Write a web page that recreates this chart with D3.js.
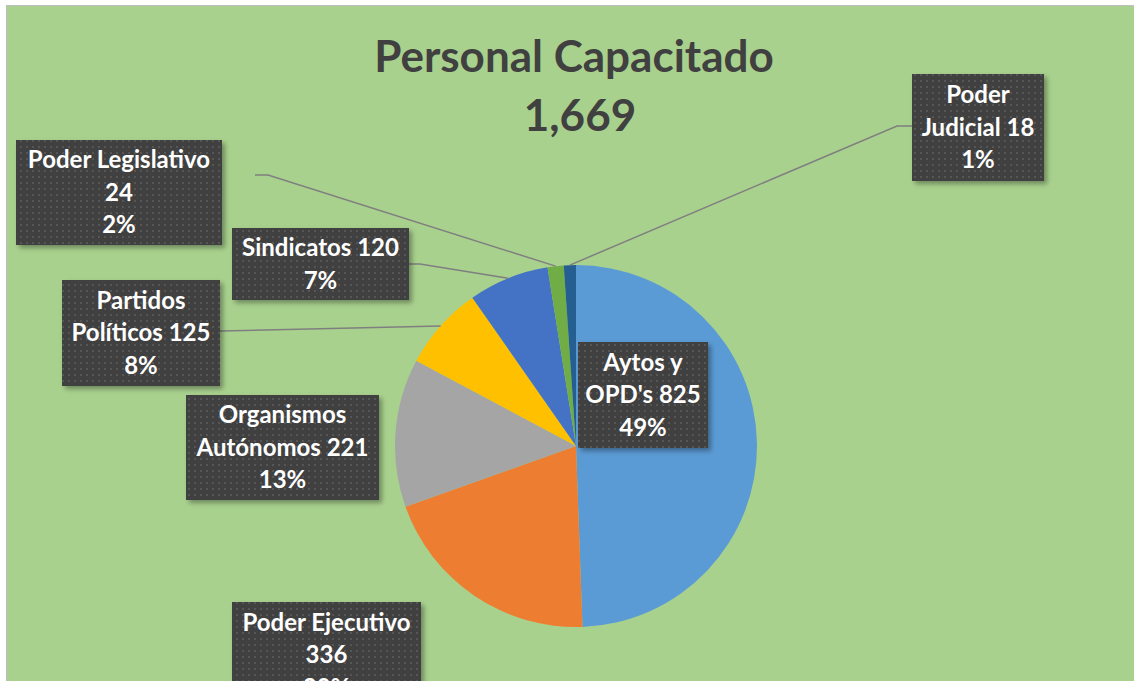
<!DOCTYPE html>
<html>
<head>
<meta charset="utf-8">
<script src="https://cdn.jsdelivr.net/npm/d3@7"></script>
<style>
  html, body { margin: 0; padding: 0; background: #fff; }
  svg { display: block; }
  text { font-family: Lato, "Open Sans", sans-serif; font-weight: bold; }
</style>
</head>
<body>
<svg width="1134" height="681"></svg>
<script>
// data
var categories = ["Aytos y OPD's", "Poder Ejecutivo", "Organismos Autónomos", "Partidos Políticos", "Sindicatos", "Poder Legislativo", "Poder Judicial"];
var values = [825, 336, 221, 125, 120, 24, 18];
var percents = [49, 20, 13, 8, 7, 2, 1];
var colors = ["#5B9BD5", "#ED7D31", "#A5A5A5", "#FFC000", "#4472C4", "#70AD47", "#255E91"];
var title = "Personal Capacitado";
var total = d3.sum(values);

// label boxes: x,y,w,h, words per line, leader elbow
var boxes = {
  "Aytos y OPD's":        { x: 578, y: 342, w: 130, h: 106, split: [2, 2] },
  "Poder Ejecutivo":      { x: 232, y: 602, w: 189, h: 106, split: [2, 1] },
  "Organismos Autónomos": { x: 186, y: 395, w: 193, h: 105, split: [1, 2] },
  "Partidos Políticos":   { x: 62,  y: 280, w: 158, h: 106, split: [1, 2], lead: [[220, 331]] },
  "Sindicatos":           { x: 232, y: 228, w: 177, h: 72,  split: [2],    lead: [[409, 264], [420, 264]] },
  "Poder Legislativo":    { x: 16,  y: 140, w: 206, h: 105, split: [2, 1], lead: [[255, 175], [268, 175]] },
  "Poder Judicial":       { x: 912, y: 74,  w: 132, h: 107, split: [1, 2], lead: [[912, 126], [897, 126]] }
};

var svg = d3.select("svg"),
    cx = 576, cy = 446, radius = 181;

var defs = svg.append("defs");

var pat = defs.append("pattern")
    .attr("id", "dots")
    .attr("width", 6).attr("height", 6)
    .attr("patternUnits", "userSpaceOnUse");
pat.append("rect").attr("width", 6).attr("height", 6).attr("fill", "#404040");
pat.append("rect").attr("x", 2).attr("y", 2).attr("width", 2).attr("height", 2).attr("fill", "#565656");

var sh = defs.append("filter").attr("id", "shadow")
    .attr("x", "-10%").attr("y", "-10%").attr("width", "130%").attr("height", "130%");
sh.append("feDropShadow")
    .attr("dx", 3).attr("dy", 3).attr("stdDeviation", 2.5)
    .attr("flood-color", "#000").attr("flood-opacity", 0.35);

// chart area
svg.append("rect")
    .attr("x", 6.5).attr("y", 5.5)
    .attr("width", 1140).attr("height", 700)
    .attr("fill", "#A9D18E")
    .attr("stroke", "#BFBFBF");

// title
svg.append("text")
    .attr("x", 574).attr("y", 72)
    .attr("text-anchor", "middle")
    .attr("font-size", 44)
    .attr("fill", "#404040")
    .text(title);
svg.append("text")
    .attr("x", 580).attr("y", 131)
    .attr("text-anchor", "middle")
    .attr("font-size", 44)
    .attr("fill", "#404040")
    .text(d3.format(",")(total));

var pie = d3.pie().sort(null).value(function(d) { return d.value; });
var arc = d3.arc().innerRadius(0).outerRadius(radius);
var edge = d3.arc().innerRadius(radius).outerRadius(radius);

var data = categories.map(function(c, i) {
  return { name: c, value: values[i], pct: percents[i], color: colors[i] };
});
var arcs = pie(data);

var g = svg.append("g").attr("transform", "translate(" + cx + "," + cy + ")");

g.selectAll("path")
  .data(arcs)
  .enter().append("path")
    .attr("d", arc)
    .attr("fill", function(d) { return d.data.color; });

// leader lines
arcs.forEach(function(d) {
  var b = boxes[d.data.name];
  if (!b.lead) return;
  var p = edge.centroid(d);
  var pts = b.lead.concat([[cx + p[0], cy + p[1]]]);
  svg.append("path")
    .attr("d", d3.line()(pts))
    .attr("fill", "none")
    .attr("stroke", "#7F7F7F")
    .attr("stroke-width", 1.5);
});

// label boxes
arcs.forEach(function(d) {
  var b = boxes[d.data.name];
  var words = (d.data.name + " " + d.data.value).split(" ");
  var lines = [], k = 0;
  b.split.forEach(function(n) { lines.push(words.slice(k, k + n).join(" ")); k += n; });
  lines.push(d.data.pct + "%");

  var lg = svg.append("g");
  lg.append("rect")
    .attr("x", b.x).attr("y", b.y)
    .attr("width", b.w).attr("height", b.h)
    .attr("fill", "url(#dots)")
    .attr("filter", "url(#shadow)");

  var lh = 32.5;
  var y0 = b.y + b.h / 2 - (lines.length - 1) * lh / 2;
  lg.selectAll("text")
    .data(lines)
    .enter().append("text")
      .attr("x", b.x + b.w / 2)
      .attr("y", function(t, i) { return y0 + i * lh; })
      .attr("dy", "0.35em")
      .attr("text-anchor", "middle")
      .attr("font-size", 24)
      .attr("fill", "#fff")
      .text(function(t) { return t; });
});
</script>
</body>
</html>
